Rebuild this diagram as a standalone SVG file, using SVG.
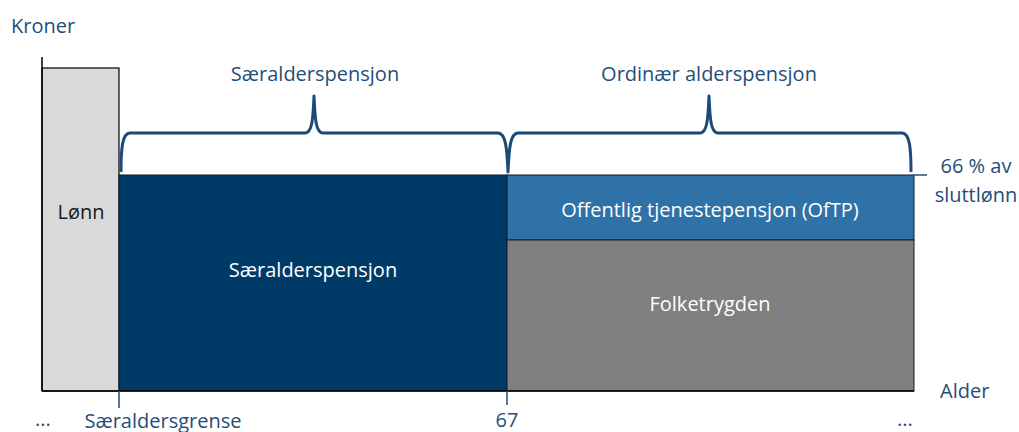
<svg xmlns="http://www.w3.org/2000/svg" width="1019" height="432" viewBox="0 0 1019 432">
<style>
.t{font-family:"Open Sans","Noto Sans",sans-serif;font-size:20px;fill:#1f4e79}
.w{font-family:"Open Sans","Noto Sans",sans-serif;font-size:20px;fill:#ffffff}
.d{font-family:"Open Sans","Noto Sans",sans-serif;font-size:20px;fill:#1a1a1a}
.brace{fill:none;stroke:#1a4a78;stroke-width:3;stroke-linejoin:round}
.ax{stroke:#000;stroke-width:1.5;fill:none}
.tick{stroke:#1f4e79;stroke-width:1.5;fill:none}
</style>
<rect width="1019" height="432" fill="#fff"/>
<text class="t" x="11" y="33">Kroner</text>
<g id="lonn">
<rect x="42" y="68" width="77" height="323" fill="#d9d9d9" stroke="#000" stroke-width="1.2"/>
<text class="d" x="81" y="219" text-anchor="middle">Lønn</text>
</g>
<g id="saeralderspensjon-box">
<rect x="119" y="175" width="388" height="216" fill="#003b68" stroke="#0a1e33" stroke-width="1"/>
<text class="w" x="313" y="277" text-anchor="middle">Særalderspensjon</text>
</g>
<g id="oftp">
<rect x="507" y="175" width="407" height="65" fill="#2e72a7" stroke="#0a1e33" stroke-width="1"/>
<text class="w" x="710" y="217" text-anchor="middle">Offentlig tjenestepensjon (OfTP)</text>
</g>
<g id="folketrygden">
<rect x="507" y="240" width="407" height="151" fill="#808080" stroke="#0a1e33" stroke-width="1"/>
<text class="w" x="710" y="311" text-anchor="middle">Folketrygden</text>
</g>
<g id="connectors">
<line class="ax" x1="42" y1="57" x2="42" y2="391"/>
<line class="ax" x1="42" y1="391" x2="914" y2="391"/>
<line class="tick" x1="119" y1="391" x2="119" y2="408"/>
<line class="tick" x1="507" y1="391" x2="507" y2="405"/>
<line class="tick" x1="914" y1="175" x2="927" y2="175"/>
<path class="brace" d="M121,172 C121,150 122,133 130,133 L305,133 C312,133 313,120 314,96 C315,120 316,133 323,133 L498,133 C506,133 507,150 508,172 C509,150 510,133 518,133 L700,133 C707,133 708,120 709,96 C710,120 711,133 718,133 L902,133 C910,133 911,150 911,172"/>
</g>
<text class="t" x="315" y="81" text-anchor="middle">Særalderspensjon</text>
<text class="t" x="709" y="81" text-anchor="middle">Ordinær alderspensjon</text>
<text class="t" x="976" y="173" text-anchor="middle">66 % av</text>
<text class="t" x="976" y="202" text-anchor="middle">sluttlønn</text>
<text class="t" x="940" y="398">Alder</text>
<text class="t" x="163" y="428" text-anchor="middle">Særaldersgrense</text>
<text class="t" x="507" y="427" text-anchor="middle">67</text>
<text class="t" x="35" y="426">...</text>
<text class="t" x="897" y="426">...</text>
</svg>
